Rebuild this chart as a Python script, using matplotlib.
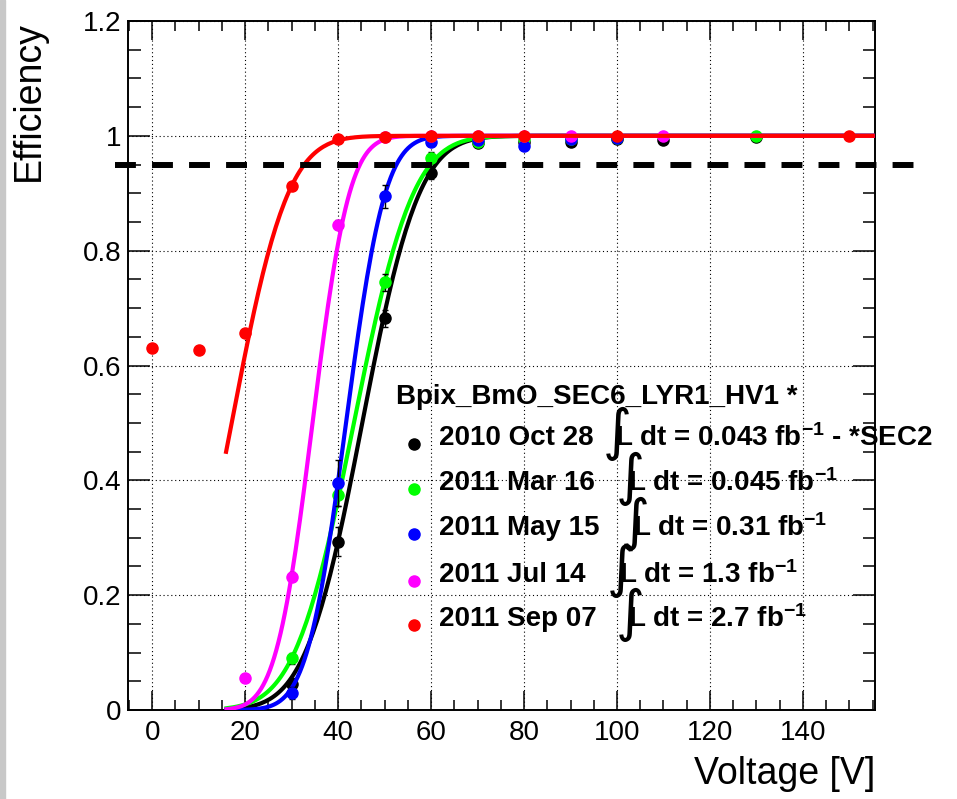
import math
import numpy as np
import matplotlib
matplotlib.use('Agg')
import matplotlib.pyplot as plt
from matplotlib.lines import Line2D
from matplotlib.patches import Rectangle

plt.rcParams['font.family'] = ['Liberation Sans', 'DejaVu Sans']
plt.rcParams['mathtext.fontset'] = 'custom'
plt.rcParams['mathtext.rm'] = 'Liberation Sans'
plt.rcParams['mathtext.bf'] = 'Liberation Sans:bold'
plt.rcParams['mathtext.it'] = 'Liberation Sans:italic'

# HV scan data, one list per run
dates = ['2010 Oct 28', '2011 Mar 16', '2011 May 15', '2011 Jul 14', '2011 Sep 07']
lumis = ['0.043', '0.045', '0.31', '1.3', '2.7']
colors = ['#000000', '#00ff00', '#0000ff', '#ff00ff', '#ff0000']

v_black = [30, 40, 50, 60, 70, 80, 90, 100, 110, 130]
e_black = [0.045, 0.293, 0.682, 0.935, 0.988, 0.990, 0.990, 0.995, 0.993, 0.998]
err_black = [0.01, 0.025, 0.015, 0.01, 0.005, 0.005, 0.004, 0.004, 0.004, 0.003]

v_green = [30, 40, 50, 60, 70, 80, 90, 100, 130]
e_green = [0.090, 0.375, 0.745, 0.962, 0.990, 0.995, 0.994, 0.996, 1.0]
err_green = [0.01, 0.02, 0.015, 0.01, 0.005, 0.004, 0.004, 0.004, 0.004]

v_blue = [30, 40, 50, 60, 70, 80, 90, 100]
e_blue = [0.030, 0.396, 0.895, 0.990, 0.992, 0.982, 0.995, 0.997]
err_blue = [0.01, 0.04, 0.02, 0.008, 0.005, 0.005, 0.004, 0.004]

v_mag = [20, 30, 40, 50, 60, 70, 80, 90, 110]
e_mag = [0.055, 0.232, 0.845, 0.998, 1.0, 1.0, 1.0, 1.0, 1.0]
err_mag = [0.005, 0.008, 0.008, 0.003, 0.002, 0.002, 0.002, 0.002, 0.002]

v_red = [0, 10, 20, 30, 40, 50, 60, 70, 80, 100, 150]
e_red = [0.630, 0.627, 0.656, 0.912, 0.995, 0.998, 0.999, 1.0, 1.0, 1.0, 1.0]
err_red = [0.005, 0.005, 0.005, 0.005, 0.003, 0.002, 0.002, 0.002, 0.002, 0.002, 0.002]

series = [(v_black, e_black, err_black), (v_green, e_green, err_green),
          (v_blue, e_blue, err_blue), (v_mag, e_mag, err_mag), (v_red, e_red, err_red)]

# erf fit parameters
fit_mean = [45.2, 43.4, 41.7, 34.5, 17.1]
fit_sigma = [9.6, 10.0, 6.6, 6.2, 9.5]
fit_start = [16.0, 16.0, 16.0, 16.0, 15.9]
fit_end = 155.0

W, H = 957, 799
fig = plt.figure(figsize=(W / 100, H / 100), dpi=100)
# frame edges in pixels
L, R, T, B = 128, 875, 21, 710
ax = fig.add_axes([L / W, 1 - B / H, (R - L) / W, (B - T) / H])

def fx(px):
    return px / W

def fy(py):
    return 1 - py / H

erf = np.vectorize(math.erf)
for i, (v, e, err) in enumerate(series):
    xs = np.linspace(fit_start[i], fit_end, 300)
    ys = 0.5 * (1 + erf((xs - fit_mean[i]) / (math.sqrt(2) * fit_sigma[i])))
    ax.plot(xs, ys, color=colors[i], lw=3, zorder=3 + i)
    ax.errorbar(v, e, yerr=err, fmt='o', color=colors[i], ms=8, ecolor='black',
                elinewidth=1, capsize=2.5, zorder=3.5 + i)

# 95% line, runs past the frame
ax.plot([-8, 164], [0.95, 0.95], color='black', lw=4.3, linestyle=(0, (3.5, 2.7)),
        clip_on=False, zorder=10)

ax.set_xlim(-5.2, 155.5)
ax.set_ylim(0, 1.2)
ax.set_xticks(np.arange(0, 141, 20))
ax.set_xticks(np.arange(-5, 156, 5), minor=True)
ax.set_yticks(np.arange(0, 1.21, 0.2))
ax.set_yticks(np.arange(0, 1.21, 0.05), minor=True)
ax.set_yticklabels(['0', '0.2', '0.4', '0.6', '0.8', '1', '1.2'])
ax.tick_params(which='both', direction='in', top=True, right=True, labelsize=20, width=1.1)
ax.tick_params(axis='x', which='major', length=14, pad=7)
ax.tick_params(axis='x', which='minor', length=7)
ax.tick_params(axis='y', which='major', length=16, pad=5)
ax.tick_params(axis='y', which='minor', length=9)
for s in ax.spines.values():
    s.set_linewidth(1.4)
ax.grid(True, which='major', color='black', linestyle=(0, (1, 2.5)), lw=0.8, zorder=0)

fig.text(fx(29), fy(21), 'Efficiency', fontsize=27, rotation=90, ha='center', va='top')
ax.set_xlabel('Voltage [V]', fontsize=27, loc='right')
ax.xaxis.set_label_coords(1.0, -(756 - B) / (B - T))

# legend block
fig.text(fx(396), fy(397), 'Bpix_BmO_SEC6_LYR1_HV1 *', fontsize=20, fontweight='bold',
         ha='left', va='center')
row_y = [438, 483, 528, 575, 619]
l_x = [615, 628, 633, 619, 628]
for i in range(5):
    y = row_y[i]
    fig.add_artist(Line2D([fx(414)], [fy(y + 6)], marker='o', ms=8, color=colors[i]))
    fig.text(fx(439), fy(y), dates[i], fontsize=20, fontweight='bold', ha='left', va='center')
    fig.text(fx(l_x[i] - 12), fy(y - 4), '\u222b', fontsize=40, family='DejaVu Sans',
             ha='left', va='center')
    tail = ' - *SEC2' if i == 0 else ''
    fig.text(fx(l_x[i]), fy(y), 'L dt = ' + lumis[i] + r' fb$^{\mathbf{-1}}$' + tail,
             fontsize=20, fontweight='bold', ha='left', va='center')

fig.patches.append(Rectangle((0, 0), 5 / W, 1, transform=fig.transFigure,
                             color='#c8c8c8', zorder=0))

fig.savefig('out.png', dpi=100)
